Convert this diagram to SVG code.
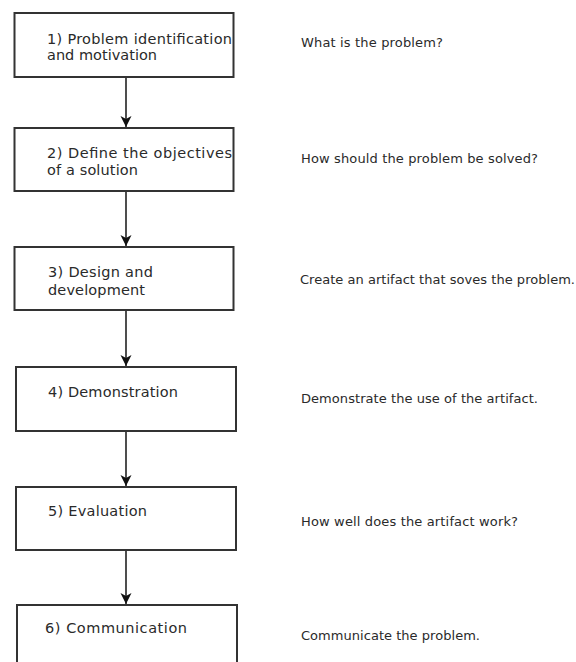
<svg xmlns="http://www.w3.org/2000/svg" width="576" height="662" viewBox="0 0 576 662">
  <defs>
    <style>
      .box { fill: #ffffff; stroke: #333333; stroke-width: 2; }
      .lbl { font-family: "DejaVu Sans", Verdana, sans-serif; font-size: 14.5px; fill: #2a2a2a; }
      .note { font-family: "DejaVu Sans", Verdana, sans-serif; font-size: 13px; fill: #2a2a2a; }
      .edge { stroke: #222222; stroke-width: 1.6; fill: none; marker-end: url(#arrow); }
    </style>
    <marker id="arrow" markerUnits="userSpaceOnUse" markerWidth="12" markerHeight="12" refX="11" refY="6" orient="auto">
      <path d="M0,0.5 L11,6 L0,11.5 L3,6 Z" fill="#111111"/>
    </marker>
  </defs>
  <rect width="576" height="662" fill="#ffffff"/>

  <!-- process steps -->
  <g id="step1">
    <rect class="box" x="14.5" y="13" width="219" height="64"/>
    <text class="lbl" x="47" y="44" textLength="185">1) Problem identification</text>
    <text class="lbl" x="47" y="60" textLength="110">and motivation</text>
  </g>
  <g id="step2">
    <rect class="box" x="14.5" y="128" width="219" height="63"/>
    <text class="lbl" x="47" y="158" textLength="185">2) Define the objectives</text>
    <text class="lbl" x="47" y="175" textLength="91">of a solution</text>
  </g>
  <g id="step3">
    <rect class="box" x="14.5" y="247" width="219" height="63"/>
    <text class="lbl" x="48" y="277" textLength="105">3) Design and</text>
    <text class="lbl" x="48" y="295" textLength="97">development</text>
  </g>
  <g id="step4">
    <rect class="box" x="16" y="367" width="220" height="64"/>
    <text class="lbl" x="48" y="397" textLength="130">4) Demonstration</text>
  </g>
  <g id="step5">
    <rect class="box" x="16" y="487" width="220" height="63"/>
    <text class="lbl" x="48" y="516" textLength="99">5) Evaluation</text>
  </g>
  <g id="step6">
    <rect class="box" x="17" y="605" width="220" height="70"/>
    <text class="lbl" x="45" y="633" textLength="142">6) Communication</text>
  </g>

  <!-- descriptions -->
  <g id="notes">
    <text class="note" x="301" y="47" textLength="142">What is the problem?</text>
    <text class="note" x="301" y="163" textLength="237">How should the problem be solved?</text>
    <text class="note" x="300" y="284" textLength="275">Create an artifact that soves the problem.</text>
    <text class="note" x="301" y="403" textLength="237">Demonstrate the use of the artifact.</text>
    <text class="note" x="301" y="526" textLength="217">How well does the artifact work?</text>
    <text class="note" x="301" y="640" textLength="179">Communicate the problem.</text>
  </g>

  <!-- connectors -->
  <g id="connectors">
    <line class="edge" x1="126" y1="78" x2="126" y2="127"/>
    <line class="edge" x1="126" y1="192" x2="126" y2="246"/>
    <line class="edge" x1="126" y1="311" x2="126" y2="366"/>
    <line class="edge" x1="126" y1="432" x2="126" y2="486"/>
    <line class="edge" x1="126" y1="551" x2="126" y2="604"/>
  </g>
</svg>
